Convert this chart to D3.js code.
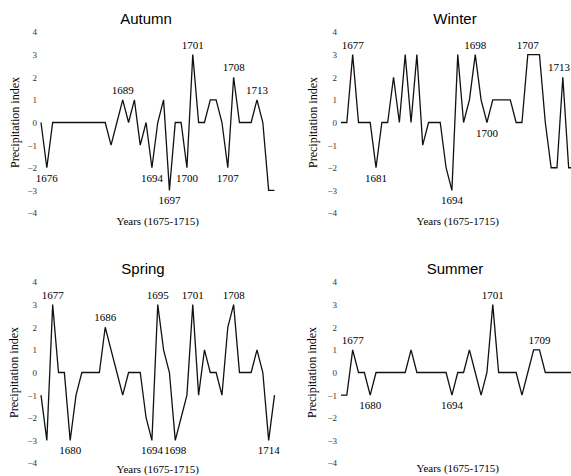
<!DOCTYPE html>
<html>
<head>
<meta charset="utf-8">
<script src="https://cdn.jsdelivr.net/npm/d3@7"></script>
<style>
  body { margin: 0; background: #fff; }
  svg { display: block; }
</style>
</head>
<body>
<div id="chart"></div>
<script>
const years = d3.range(1675, 1716);
const yTicks = [4, 3, 2, 1, 0, -1, -2, -3, -4];

// precipitation index per year, 1675..1715
const autumn = [0, -2, 0, 0, 0, 0, 0, 0, 0, 0, 0, 0, -1, 0, 1, 0, 1, -1, 0, -2, 0,
                1, -3, 0, 0, -2, 3, 0, 0, 1, 1, 0, -2, 2, 0, 0, 0, 1, 0, -3, -3];
const winter = [0, 0, 3, 0, 0, 0, -2, 0, 0, 2, 0, 3, 0, 3, -1, 0, 0, 0, -2, -3, 3,
                0, 1, 3, 1, 0, 1, 1, 1, 1, 0, 0, 3, 3, 3, 0, -2, -2, 2, -2, -2];
const spring = [-1, -3, 3, 0, 0, -3, -1, 0, 0, 0, 0, 2, 1, 0, -1, 0, 0, 0, -2, -3, 3,
                1, 0, -3, -2, -1, 3, -1, 1, 0, 0, -1, 2, 3, 0, 0, 0, 1, 0, -3, -1];
const summer = [-1, -1, 1, 0, 0, -1, 0, 0, 0, 0, 0, 0, 1, 0, 0, 0, 0, 0, 0, -1, 0,
                0, 1, 0, -1, 0, 3, 0, 0, 0, 0, -1, 0, 1, 1, 0, 0, 0, 0, 0, 0];

// [year of the marked point, label text]
const autumnLabels = [[1676, "1676"], [1689, "1689"], [1694, "1694"], [1697, "1697"],
                      [1700, "1700"], [1701, "1701"], [1707, "1707"], [1708, "1708"], [1712, "1713"]];
const winterLabels = [[1677, "1677"], [1681, "1681"], [1694, "1694"], [1698, "1698"],
                      [1700, "1700"], [1707, "1707"], [1713, "1713"]];
const springLabels = [[1677, "1677"], [1680, "1680"], [1686, "1686"], [1694, "1694"], [1695, "1695"],
                      [1698, "1698"], [1701, "1701"], [1708, "1708"], [1714, "1714"]];
const summerLabels = [[1677, "1677"], [1680, "1680"], [1694, "1694"], [1701, "1701"], [1709, "1709"]];

const width = 571, height = 476;
const serif = "'Liberation Serif', 'Times New Roman', serif";
const sans = "'Liberation Sans', Arial, sans-serif";

const svg = d3.select("#chart")
              .append("svg")
              .attr("width", width)
              .attr("height", height);

const panels = [
  { title: "Autumn", values: autumn, labels: autumnLabels, left: 41, right: 274.5, top: 32, bottom: 213, titleX: 146, yTitleX: 15, xTitleGap: 12 },
  { title: "Winter", values: winter, labels: winterLabels, left: 341, right: 574.5, top: 32, bottom: 213, titleX: 455, yTitleX: 313, xTitleGap: 12 },
  { title: "Spring", values: spring, labels: springLabels, left: 41, right: 274.5, top: 282, bottom: 463, titleX: 143, yTitleX: 14, xTitleGap: 10 },
  { title: "Summer", values: summer, labels: summerLabels, left: 341, right: 574.5, top: 282, bottom: 463, titleX: 455, yTitleX: 312, xTitleGap: 9 }
];

panels.forEach(p => {
    const g = svg.append("g");

    const x = d3.scaleLinear()
                .domain([1675, 1715])
                .range([p.left, p.right]);

    const y = d3.scaleLinear()
                .domain([-4, 4])
                .range([p.bottom, p.top]);

    g.append("g")
     .attr("transform", `translate(${p.left},0)`)
     .call(d3.axisLeft(y).tickValues(yTicks).tickSize(0).tickPadding(4).tickFormat(d3.format("d")))
     .call(a => a.select(".domain").remove())
     .selectAll("text")
     .attr("font-family", serif)
     .attr("font-size", 9)
     .attr("fill", "#333");

    g.append("path")
     .datum(p.values)
     .attr("fill", "none")
     .attr("stroke", "#111")
     .attr("stroke-width", 1.3)
     .attr("stroke-linejoin", "miter")
     .attr("d", d3.line()
                  .x((d, i) => x(years[i]))
                  .y(d => y(d)));

    // label goes under local minima, above peaks
    g.selectAll(".yr")
     .data(p.labels)
     .join("text")
     .attr("class", "yr")
     .attr("font-family", serif)
     .attr("font-size", 11)
     .attr("text-anchor", "middle")
     .attr("x", d => x(d[0]))
     .attr("y", d => {
         const i = years.indexOf(d[0]);
         const v = p.values[i];
         const prev = i > 0 ? p.values[i - 1] : v;
         const next = i < p.values.length - 1 ? p.values[i + 1] : v;
         const below = v < 0 || (v <= prev && v <= next);
         return below ? y(v) + 14 : y(v) - 6;
     })
     .text(d => d[1])
     .each(function() {
         // keep labels inside the page
         const half = this.getComputedTextLength() / 2;
         const cx = +this.getAttribute("x");
         if (cx + half > width - 1) this.setAttribute("x", width - 1 - half);
     });

    g.append("text")
     .attr("x", p.titleX)
     .attr("y", p.top - 8)
     .attr("text-anchor", "middle")
     .attr("font-family", sans)
     .attr("font-size", 15)
     .text(p.title);

    g.append("text")
     .attr("transform", `translate(${p.yTitleX},${y(0)}) rotate(-90)`)
     .attr("text-anchor", "middle")
     .attr("dy", "0.35em")
     .attr("font-family", serif)
     .attr("font-size", 12)
     .text("Precipitation index");

    g.append("text")
     .attr("x", (p.left + p.right) / 2)
     .attr("y", p.bottom + p.xTitleGap)
     .attr("text-anchor", "middle")
     .attr("font-family", serif)
     .attr("font-size", 11)
     .text("Years (1675-1715)");
});
</script>
</body>
</html>
